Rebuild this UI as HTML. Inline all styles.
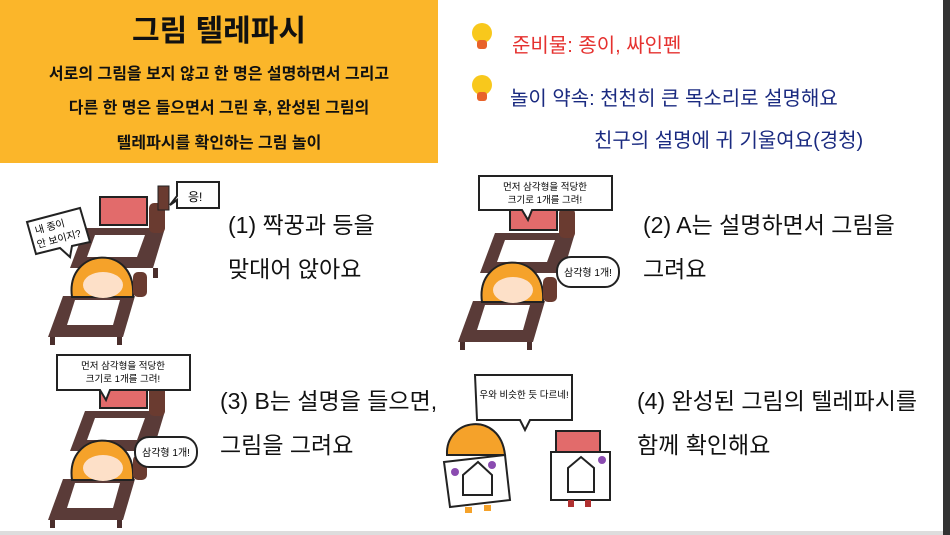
<!DOCTYPE html>
<html><head><meta charset="utf-8"><style>
html,body{margin:0;padding:0;background:#fff;}
body{width:950px;height:535px;position:relative;overflow:hidden;font-family:"Liberation Sans","Noto Sans CJK KR","NanumGothic",sans-serif;}
.t{position:absolute;white-space:nowrap;color:#111;}
</style></head><body>
<div style="position:absolute;left:0;top:0;width:438px;height:163px;background:#fbb62a;"></div>
<div class="t" style="left:0;width:438px;text-align:center;top:6px;font-size:30px;font-weight:bold;">그림 텔레파시</div>
<div class="t" style="left:0;width:438px;text-align:center;top:60px;font-size:16px;font-weight:bold;">서로의 그림을 보지 않고 한 명은 설명하면서 그리고</div>
<div class="t" style="left:0;width:438px;text-align:center;top:94px;font-size:16px;font-weight:bold;">다른 한 명은 들으면서 그린 후, 완성된 그림의</div>
<div class="t" style="left:0;width:438px;text-align:center;top:129px;font-size:16px;font-weight:bold;">텔레파시를 확인하는 그림 놀이</div>

<div class="t" style="left:512px;top:29px;font-size:20px;color:#e5312f;">준비물: 종이, 싸인펜</div>
<div class="t" style="left:510px;top:82px;font-size:20px;color:#1a2a80;">놀이 약속: 천천히 큰 목소리로 설명해요</div>
<div class="t" style="left:594px;top:124px;font-size:20px;color:#1a2a80;">친구의 설명에 귀 기울여요(경청)</div>

<div class="t" style="left:228px;top:206px;font-size:23px;">(1) 짝꿍과 등을</div>
<div class="t" style="left:228px;top:250px;font-size:23px;">맞대어 앉아요</div>
<div class="t" style="left:643px;top:206px;font-size:23px;">(2) A는 설명하면서 그림을</div>
<div class="t" style="left:643px;top:250px;font-size:23px;">그려요</div>
<div class="t" style="left:220px;top:382px;font-size:23px;">(3) B는 설명을 들으면,</div>
<div class="t" style="left:220px;top:426px;font-size:23px;">그림을 그려요</div>
<div class="t" style="left:637px;top:382px;font-size:23px;">(4) 완성된 그림의 텔레파시를</div>
<div class="t" style="left:637px;top:426px;font-size:23px;">함께 확인해요</div>

<svg width="950" height="535" style="position:absolute;left:0;top:0" xmlns="http://www.w3.org/2000/svg">
<defs>
<g id="bulb"><circle cx="0" cy="0" r="10" fill="#f8c81c"/><rect x="-5" y="7" width="10" height="9" rx="3" fill="#e8622a"/></g>
<g id="scene">
 <polygon points="40,31 120,31 108,71 25,71" fill="#5a3b38"/>
 <polygon points="50,38 100,38 92,60 42,60" fill="#fff"/>
 <rect x="108" y="71" width="5" height="10" fill="#4a2e2c"/>
 <rect x="55" y="0" width="47" height="28" fill="#e26b6b" stroke="#222" stroke-width="2"/>
 <rect x="104" y="6" width="16" height="30" rx="5" fill="#6a3b30"/>
 <polygon points="18,99 90,99 78,140 3,140" fill="#5a3b38"/>
 <polygon points="30,103 75,103 68,128 22,128" fill="#fff"/>
 <rect x="5" y="140" width="5" height="8" fill="#4a2e2c"/><rect x="72" y="140" width="5" height="8" fill="#4a2e2c"/>
 <path d="M27,100 C20,50 92,45 88,100 Z" fill="#f5a22a" stroke="#222" stroke-width="2"/>
 <ellipse cx="58" cy="88" rx="20" ry="13" fill="#fde0c8"/>
 <rect x="88" y="75" width="14" height="25" rx="5" fill="#6a3b30"/>
</g>
</defs>
<use href="#bulb" x="482" y="33"/>
<use href="#bulb" x="482" y="85"/>

<!-- scene 1 -->
<use href="#scene" x="45" y="197"/>
<rect x="158" y="186" width="11" height="24" fill="#6a3b30" stroke="#222"/>
<path d="M177,182 L219,182 L219,208 L177,208 L177,200 L170,205 L177,196 Z" fill="#fff" stroke="#222" stroke-width="2"/>
<text x="188" y="201" font-size="12" font-family="Liberation Sans,Noto Sans CJK KR,sans-serif">응!</text>
<path d="M27,222 L80,208 L90,242 L72,246 L70,257 L60,248 L36,254 Z" fill="#fff" stroke="#222" stroke-width="2"/>
<text x="36" y="234" font-size="10" transform="rotate(-15 36 234)" font-family="Liberation Sans,Noto Sans CJK KR,sans-serif">내 종이</text>
<text x="38" y="248" font-size="10" transform="rotate(-15 38 248)" font-family="Liberation Sans,Noto Sans CJK KR,sans-serif">안 보이지?</text>

<!-- scene 2 -->
<use href="#scene" x="455" y="202"/>
<path d="M479,176 L612,176 L612,210 L532,210 L528,220 L522,210 L479,210 Z" fill="#fff" stroke="#222" stroke-width="2"/>
<text x="545" y="190" font-size="9.5" text-anchor="middle" font-family="Liberation Sans,Noto Sans CJK KR,sans-serif">먼저 삼각형을 적당한</text>
<text x="545" y="203" font-size="9.5" text-anchor="middle" font-family="Liberation Sans,Noto Sans CJK KR,sans-serif">크기로 1개를 그려!</text>
<rect x="557" y="257" width="62" height="30" rx="14" fill="#fff" stroke="#222" stroke-width="2"/>
<text x="588" y="276" font-size="10" text-anchor="middle" font-family="Liberation Sans,Noto Sans CJK KR,sans-serif">삼각형 1개!</text>

<!-- scene 3 -->
<use href="#scene" x="45" y="380"/>
<path d="M57,355 L190,355 L190,390 L110,390 L106,400 L100,390 L57,390 Z" fill="#fff" stroke="#222" stroke-width="2"/>
<text x="123" y="369" font-size="9.5" text-anchor="middle" font-family="Liberation Sans,Noto Sans CJK KR,sans-serif">먼저 삼각형을 적당한</text>
<text x="123" y="382" font-size="9.5" text-anchor="middle" font-family="Liberation Sans,Noto Sans CJK KR,sans-serif">크기로 1개를 그려!</text>
<rect x="135" y="437" width="62" height="30" rx="14" fill="#fff" stroke="#222" stroke-width="2"/>
<text x="166" y="456" font-size="10" text-anchor="middle" font-family="Liberation Sans,Noto Sans CJK KR,sans-serif">삼각형 1개!</text>

<!-- scene 4 -->
<path d="M475,375 L572,375 L572,420 L530,420 L525,430 L520,420 L477,420 Z" fill="#fff" stroke="#222" stroke-width="2"/>
<text x="524" y="398" font-size="9.5" text-anchor="middle" font-family="Liberation Sans,Noto Sans CJK KR,sans-serif">우와 비슷한 듯 다르네!</text>
<path d="M447,455 C445,418 500,410 505,455 Z" fill="#f5a22a" stroke="#222" stroke-width="2"/>
<rect x="556" y="431" width="44" height="24" fill="#e26b6b" stroke="#222" stroke-width="2"/>
<polygon points="444,462 505,455 510,500 450,507" fill="#fff" stroke="#222" stroke-width="2"/>
<polygon points="551,452 610,452 610,500 551,500" fill="#fff" stroke="#222" stroke-width="2"/>
<path d="M463,475 L478,462 L492,475 L492,495 L463,495 Z" fill="none" stroke="#222" stroke-width="2"/>
<path d="M568,468 L581,457 L594,468 L594,492 L568,492 Z" fill="none" stroke="#222" stroke-width="2"/>
<circle cx="455" cy="472" r="4" fill="#8a4bb0"/><circle cx="492" cy="465" r="4" fill="#8a4bb0"/><circle cx="602" cy="460" r="4" fill="#8a4bb0"/>
<rect x="465" y="507" width="7" height="6" fill="#f5a22a"/><rect x="484" y="505" width="7" height="6" fill="#f5a22a"/>
<rect x="568" y="500" width="6" height="7" fill="#b03030"/><rect x="585" y="500" width="6" height="7" fill="#b03030"/>

<rect x="943" y="0" width="7" height="535" fill="#333"/>
<rect x="0" y="531" width="943" height="4" fill="#ddd"/>
</svg>
</body></html>
